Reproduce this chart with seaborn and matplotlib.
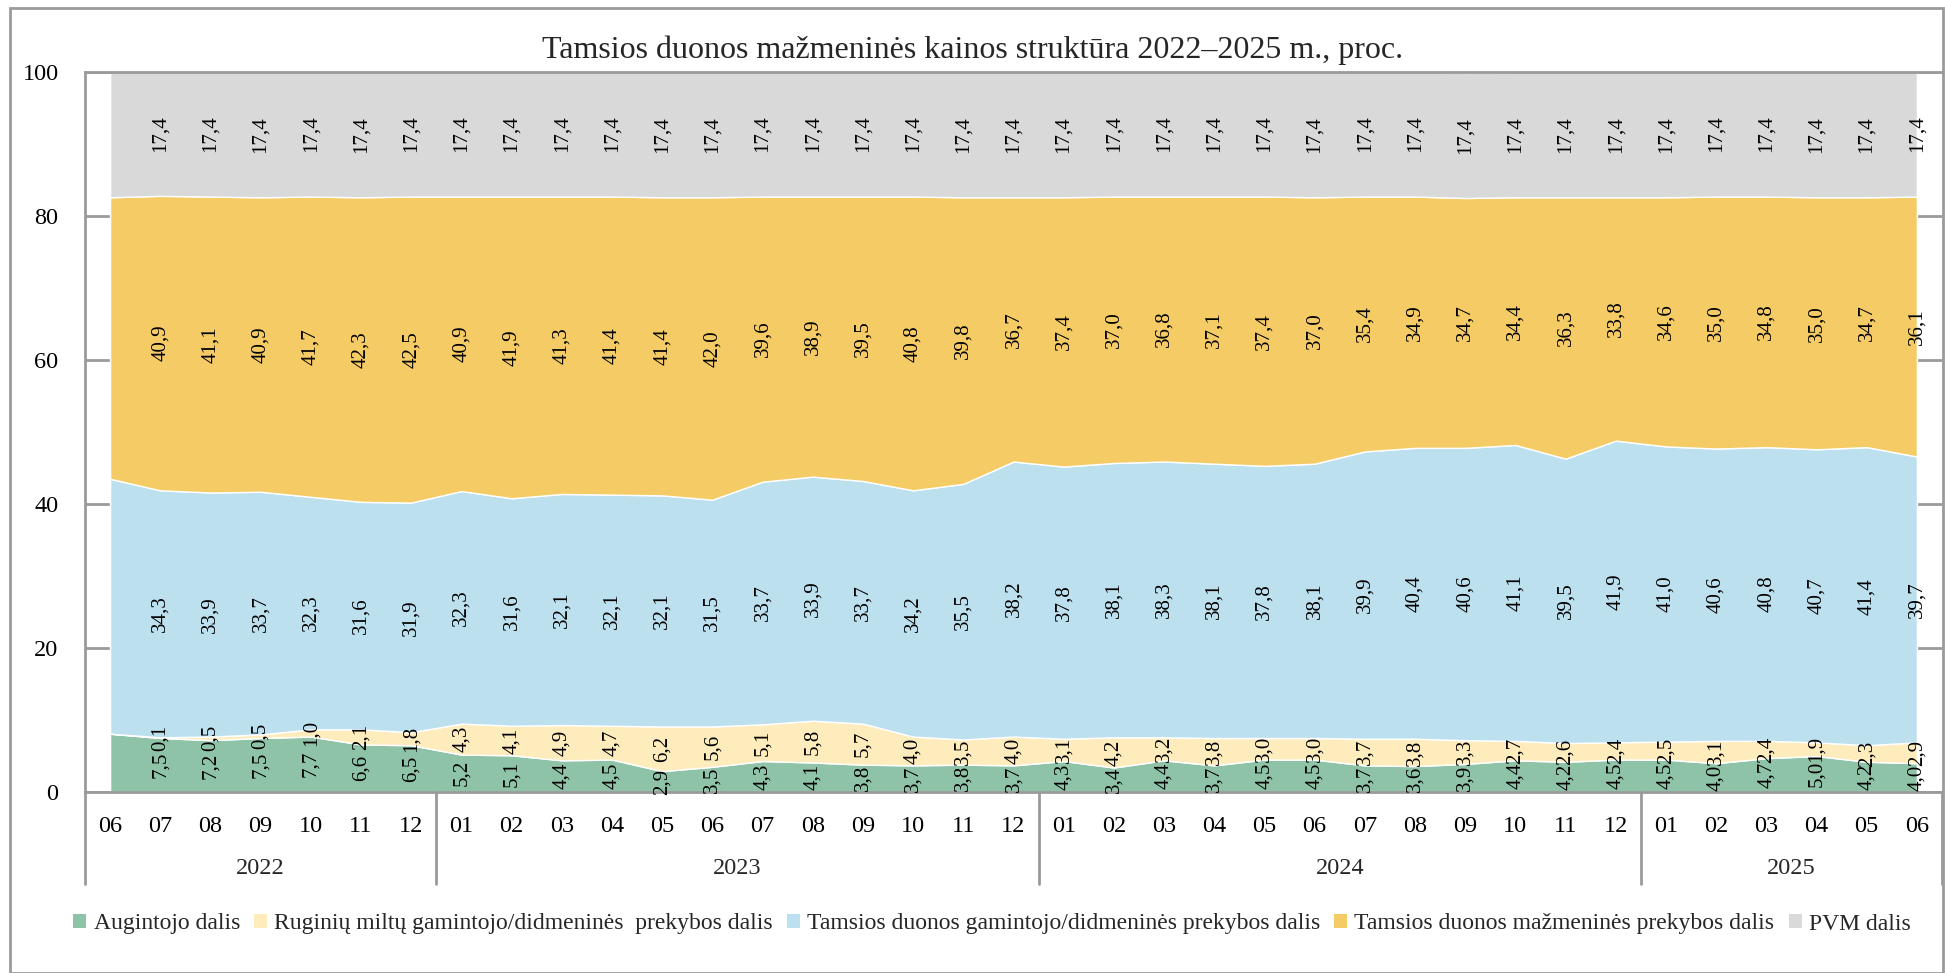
import pandas as pd
import matplotlib.pyplot as plt
import seaborn as sns
from matplotlib.patches import Patch, Rectangle
from matplotlib.transforms import blended_transform_factory

sns.set_theme(style="white")
plt.rcParams["font.family"] = ["Liberation Serif", "DejaVu Serif"]

menesiai = ["06", "07", "08", "09", "10", "11", "12",
            "01", "02", "03", "04", "05", "06", "07", "08", "09", "10", "11", "12",
            "01", "02", "03", "04", "05", "06", "07", "08", "09", "10", "11", "12",
            "01", "02", "03", "04", "05", "06"]
metai = ["2022", "2023", "2024", "2025"]
metu_ilgis = [7, 12, 12, 6]

augintojo = [8.1, 7.5, 7.2, 7.5, 7.7, 6.6, 6.5,
             5.2, 5.1, 4.4, 4.5, 2.9, 3.5, 4.3, 4.1, 3.8, 3.7, 3.8, 3.7,
             4.3, 3.4, 4.4, 3.7, 4.5, 4.5, 3.7, 3.6, 3.9, 4.4, 4.2, 4.5,
             4.5, 4.0, 4.7, 5.0, 4.2, 4.0]
miltu = [0.0, 0.1, 0.5, 0.5, 1.0, 2.1, 1.8,
         4.3, 4.1, 4.9, 4.7, 6.2, 5.6, 5.1, 5.8, 5.7, 4.0, 3.5, 4.0,
         3.1, 4.2, 3.2, 3.8, 3.0, 3.0, 3.7, 3.8, 3.3, 2.7, 2.6, 2.4,
         2.5, 3.1, 2.4, 1.9, 2.3, 2.9]
duonos_gam = [35.4, 34.3, 33.9, 33.7, 32.3, 31.6, 31.9,
              32.3, 31.6, 32.1, 32.1, 32.1, 31.5, 33.7, 33.9, 33.7, 34.2, 35.5, 38.2,
              37.8, 38.1, 38.3, 38.1, 37.8, 38.1, 39.9, 40.4, 40.6, 41.1, 39.5, 41.9,
              41.0, 40.6, 40.8, 40.7, 41.4, 39.7]
duonos_mazm = [39.1, 40.9, 41.1, 40.9, 41.7, 42.3, 42.5,
               40.9, 41.9, 41.3, 41.4, 41.4, 42.0, 39.6, 38.9, 39.5, 40.8, 39.8, 36.7,
               37.4, 37.0, 36.8, 37.1, 37.4, 37.0, 35.4, 34.9, 34.7, 34.4, 36.3, 33.8,
               34.6, 35.0, 34.8, 35.0, 34.7, 36.1]
pvm = [17.4] * 37

serijos = ["Augintojo dalis", "Ruginių miltų gamintojo/didmeninės  prekybos dalis",
           "Tamsios duonos gamintojo/didmeninės prekybos dalis",
           "Tamsios duonos mažmeninės prekybos dalis", "PVM dalis"]
spalvos = ["#8ec3a7", "#feecbd", "#bde0ef", "#f5cb66", "#d9d9d9"]

df = pd.DataFrame({
    serijos[0]: augintojo,
    serijos[1]: miltu,
    serijos[2]: duonos_gam,
    serijos[3]: duonos_mazm,
    serijos[4]: pvm,
})

fig = plt.figure(figsize=(19.45, 9.73), dpi=100)
ax = fig.add_axes([85 / 1945, 1 - 792 / 973, (1942 - 85) / 1945, 720 / 973])

x = list(range(len(df)))
ax.stackplot(x, *[df[s] for s in serijos], colors=spalvos, zorder=2)

# reiksmiu etiketes juostu viduryje
apacia = [0.0] * len(df)
for s in serijos:
    for i in range(1, len(df)):
        v = df[s][i]
        ax.text(i, apacia[i] + v / 2, f"{v:.1f}".replace(".", ","), rotation=90,
                ha="center", va="center", fontsize=15, color="black", zorder=3)
    apacia = [a + b for a, b in zip(apacia, df[s])]

ax.set_xlim(-0.5, len(df) - 0.5)
ax.set_ylim(0, 100)
ax.set_yticks(range(0, 101, 20))
ax.set_xticks(x, menesiai)
ax.tick_params(axis="both", length=0, labelsize=17.5, colors="black")
ax.tick_params(axis="x", pad=17)
ax.tick_params(axis="y", pad=19)
ax.yaxis.grid(True, color="#9a9a9a", linewidth=2, zorder=1)
ax.set_axisbelow(True)
for k in ["left", "bottom", "top"]:
    ax.spines[k].set_color("#9a9a9a")
    ax.spines[k].set_linewidth(2)
ax.spines["right"].set_visible(False)

# metu grupes po asimi
tr = blended_transform_factory(ax.transData, ax.transAxes)
riba = -0.5
for m, n in zip(metai, metu_ilgis):
    ax.plot([riba, riba], [0, -92 / 720], transform=tr, color="#9a9a9a",
            linewidth=2, clip_on=False)
    ax.text(riba + n / 2, -76 / 720, m, transform=tr, ha="center", va="center",
            fontsize=17.5)
    riba += n
ax.plot([riba, riba], [0, -92 / 720], transform=tr, color="#9a9a9a",
        linewidth=2, clip_on=False)

fig.suptitle("Tamsios duonos mažmeninės kainos struktūra 2022–2025 m., proc.",
             x=0.5, y=1 - 50 / 973, va="center", fontsize=23)

rankenos = [Patch(facecolor=c, edgecolor="none") for c in spalvos]
fig.legend(rankenos, serijos, loc="center", bbox_to_anchor=(0.51, 1 - 924 / 973),
           ncol=5, frameon=False, fontsize=17, handlelength=0.55, handleheight=0.55,
           handletextpad=0.3, columnspacing=0.6)

fig.patches.append(Rectangle((10 / 1945, 0), 1933 / 1945, 965 / 973,
                             transform=fig.transFigure, fill=False,
                             edgecolor="#9a9a9a", linewidth=2))

fig.savefig("out.png", dpi=100)
